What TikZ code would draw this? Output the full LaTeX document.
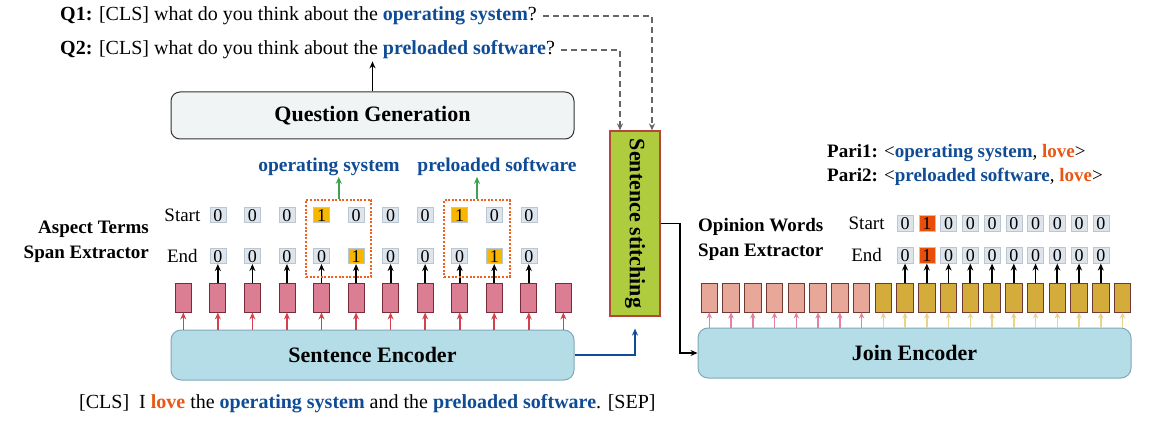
\documentclass[tikz,border=0pt]{standalone}
\usepackage{fontspec}
\setmainfont{Liberation Serif}
\usepackage{graphicx}
\usepackage{xcolor}
\usepackage{tikz}
\usetikzlibrary{arrows.meta, positioning, fit, calc, backgrounds}

\definecolor{tblue}{RGB}{16,76,150}
\definecolor{torange}{RGB}{232,88,20}
\definecolor{qgray}{RGB}{241,244,245}
\definecolor{encfill}{RGB}{181,221,231}
\definecolor{encline}{RGB}{128,168,184}
\definecolor{stitchfill}{RGB}{175,204,62}
\definecolor{stitchline}{RGB}{181,70,58}
\definecolor{lbarfill}{RGB}{219,126,148}
\definecolor{lbarline}{RGB}{120,44,58}
\definecolor{salmonfill}{RGB}{232,168,153}
\definecolor{goldfill}{RGB}{212,172,60}
\definecolor{rbarline}{RGB}{112,58,50}
\definecolor{cellfill}{RGB}{221,228,236}
\definecolor{cellline}{RGB}{186,198,210}
\definecolor{hiyel}{RGB}{247,182,0}
\definecolor{hiorg}{RGB}{232,80,10}
\definecolor{spanorange}{RGB}{242,96,30}
\definecolor{redarr}{RGB}{214,64,74}
\definecolor{pinkarr}{RGB}{226,128,158}
\definecolor{yelarr}{RGB}{234,210,140}
\definecolor{greenarr}{RGB}{60,163,78}

\begin{document}
\begin{tikzpicture}[
        x=1pt, y=-1pt,
        qtext/.style={font=\fontsize{20}{23}\selectfont, inner sep=2pt, anchor=west},
        genbox/.style={rectangle, draw=black!80, fill=qgray, line width=1pt, rounded corners=9pt, minimum width=403pt, minimum height=47pt, font=\fontsize{22}{26}\selectfont\bfseries},
        encbox/.style={rectangle, draw=encline, fill=encfill, line width=1pt, rounded corners=10pt, minimum height=50pt, font=\fontsize{22}{26}\selectfont\bfseries},
        stitchbox/.style={rectangle, draw=stitchline, fill=stitchfill, line width=1.2pt, minimum width=50pt, minimum height=185pt, inner sep=0pt, font=\fontsize{22}{26}\selectfont\bfseries},
        lbar/.style={rectangle, draw=lbarline, fill=lbarfill, line width=0.9pt, minimum width=16pt, minimum height=29pt, inner sep=0pt},
        rbar/.style={rectangle, draw=rbarline, line width=0.9pt, minimum width=16.5pt, minimum height=29pt, inner sep=0pt},
        cell/.style={rectangle, draw=cellline, line width=0.6pt, minimum width=16pt, minimum height=15.5pt, inner sep=0pt, text height=12.3pt, text depth=0pt, font=\fontsize{18}{18}\selectfont},
        rowlab/.style={font=\fontsize{19}{22}\selectfont, inner sep=2pt},
        sidelab/.style={font=\fontsize{19}{25}\selectfont\bfseries, inner sep=0pt},
        aspectlab/.style={font=\fontsize{19.5}{22}\selectfont\bfseries, text=tblue, inner sep=1pt},
        spanbox/.style={draw=spanorange, line width=2pt, dash pattern=on 2pt off 1.6pt, inner sep=7pt},
        arrow/.style={-{Stealth[length=7pt, width=6pt]}, line width=1.8pt, draw=black},
        dasharrow/.style={-{Stealth[length=7pt, width=6pt]}, line width=1.6pt, draw=black!60, dash pattern=on 6pt off 4pt},
        bluearrow/.style={-{Stealth[length=7pt, width=6pt]}, line width=2.2pt, draw=tblue},
        greenup/.style={-{Stealth[length=7pt, width=6pt]}, line width=1.8pt, draw=greenarr},
        redup/.style={-{Stealth[length=7pt, width=6pt]}, line width=1.6pt, draw=redarr},
        pinkup/.style={-{Stealth[length=6pt, width=5.5pt]}, line width=1.5pt, draw=pinkarr},
        yelup/.style={-{Stealth[length=6pt, width=5.5pt]}, line width=1.5pt, draw=yelarr},
    ]
        \useasboundingbox (0,0) rectangle (1167,430);

        % Questions
        \node[qtext] (q1) at (58,16) {\textbf{Q1:} [CLS] what do you think about the \textbf{\color{tblue}operating system}?};
        \node[qtext] (q2) at (58,50) {\textbf{Q2:} [CLS] what do you think about the \textbf{\color{tblue}preloaded software}?};
        \node[genbox] (qgen) at (372.5,115.5) {Question Generation};

        % Encoders and stitching
        \node[encbox, minimum width=403pt] (senc) at (372.5,355) {Sentence Encoder};
        \node[encbox, minimum width=433pt] (jenc) at (914.5,353) {Join Encoder};
        \node[stitchbox] (stitch) at (635,223.5) {\rotatebox{-90}{Sentence stitching}};

        % Input sentence
        \node[qtext] (sent) at (77,403.3) {[CLS]\ \ I \textbf{\color{torange}love} the \textbf{\color{tblue}operating system} and the \textbf{\color{tblue}preloaded software}. [SEP]};

        % Aspect terms span extractor
        \foreach \i in {1,...,12} {
            \node[lbar] (lbar\i) at ({183.3+34.55*(\i-1)},297.5) {};
            \draw[redup] (lbar\i.south |- senc.north) -- (lbar\i.south);
        }
        \foreach \j/\s/\e/\fs/\fe in {1/0/0/cellfill/cellfill, 2/0/0/cellfill/cellfill, 3/0/0/cellfill/cellfill,
                4/1/0/hiyel/cellfill, 5/0/1/cellfill/hiyel, 6/0/0/cellfill/cellfill, 7/0/0/cellfill/cellfill,
                8/1/0/hiyel/cellfill, 9/0/1/cellfill/hiyel, 10/0/0/cellfill/cellfill} {
            \node[cell, fill=\fs] (ls\j) at ({183.3+34.55*\j},215) {\s};
            \node[cell, fill=\fe] (le\j) at ({183.3+34.55*\j},256) {\e};
            \pgfmathtruncatemacro{\k}{\j+1}
            \draw[arrow] (lbar\k.north) -- (le\j.south);
        }
        \node[rowlab, left=7pt of ls1] (lstart) {Start};
        \node[rowlab] (lend) at (lstart |- le1) {End};
        \node[sidelab, align=right, anchor=east] (aspect) at (149,242) {Aspect Terms\\Span Extractor};

        % Extracted spans
        \coordinate (lo1) at ($(le5.south)+(0,6)$);
        \coordinate (lo2) at ($(le9.south)+(0,6)$);
        \node[spanbox, fit=(ls4)(le5)(lo1)] (span1) {};
        \node[spanbox, fit=(ls8)(le9)(lo2)] (span2) {};
        \node[aspectlab] (os) at (329,166.7) {operating system};
        \node[aspectlab] (ps) at (497,166.7) {preloaded software};
        \draw[greenup] (span1.north) -- (span1.north |- os.south);
        \draw[greenup] (span2.north) -- (span2.north |- ps.south);

        % Opinion words span extractor
        \foreach \i in {1,...,8} {
            \node[rbar, fill=salmonfill] (rbar\i) at ({709.3+21.75*(\i-1)},297.5) {};
            \draw[pinkup] (rbar\i.south |- jenc.north) -- (rbar\i.south);
        }
        \foreach \i in {9,...,20} {
            \node[rbar, fill=goldfill] (rbar\i) at ({709.3+21.75*(\i-1)},297.5) {};
            \draw[yelup] (rbar\i.south |- jenc.north) -- (rbar\i.south);
        }
        \foreach \j/\s/\fs in {1/0/cellfill, 2/1/hiorg, 3/0/cellfill, 4/0/cellfill, 5/0/cellfill,
                6/0/cellfill, 7/0/cellfill, 8/0/cellfill, 9/0/cellfill, 10/0/cellfill} {
            \node[cell, fill=\fs] (rs\j) at ({709.3+21.75*(\j+8)},223.5) {\s};
            \node[cell, fill=\fs] (re\j) at ({709.3+21.75*(\j+8)},255.5) {\s};
            \pgfmathtruncatemacro{\k}{\j+9}
            \draw[arrow] (rbar\k.north) -- (re\j.south);
        }
        \node[rowlab, left=10pt of rs1] (rstart) {Start};
        \node[rowlab] (rend) at (rstart |- re1) {End};
        \node[sidelab, align=left, anchor=west] (opinion) at (698,239) {Opinion Words\\Span Extractor};

        % Pairs
        \node[qtext, font=\fontsize{19}{22}\selectfont] (pair1) at (825,153.3) {\textbf{Pari1:} <\textbf{\color{tblue}operating system}, \textbf{\color{torange}love}>};
        \node[qtext, font=\fontsize{19}{22}\selectfont] (pair2) at (825,176.7) {\textbf{Pari2:} <\textbf{\color{tblue}preloaded software}, \textbf{\color{torange}love}>};

        % Arrows
        \draw[arrow] (qgen.north) -- (qgen.north |- q2.south);
        \draw[dasharrow, shorten <=4pt] (q1.east) -| ([xshift=17pt]stitch.north);
        \draw[dasharrow, shorten <=4pt] (q2.east) -| ([xshift=-15pt]stitch.north);
        \draw[bluearrow] (senc.east) -| ([yshift=-12pt]stitch.south);
        \draw[arrow] (stitch.east) -- ++(19,0) |- (jenc.west);
    \end{tikzpicture}
\end{document}
